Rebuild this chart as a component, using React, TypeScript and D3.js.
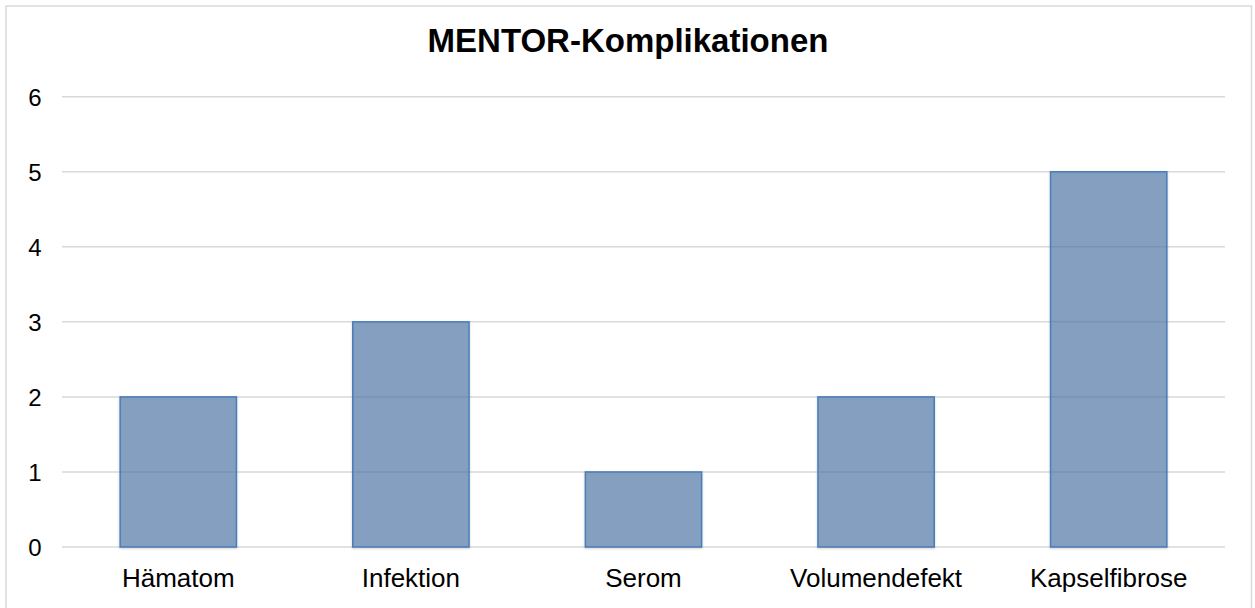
import React from "react";
import * as d3 from "d3";

const categories = ["Hämatom", "Infektion", "Serom", "Volumendefekt", "Kapselfibrose"];
const values = [2, 3, 1, 2, 5];
const yTicks = [0, 1, 2, 3, 4, 5, 6];
const title = "MENTOR-Komplikationen";

export default function App() {
  const W = 1255, H = 608;
  const left = 62, right = 1225, top = 96.7, bottom = 547;
  const x = d3.scaleBand<string>().domain(categories).range([left, right]).paddingInner(0.5).paddingOuter(0.25);
  const y = d3.scaleLinear().domain([0, 6]).range([bottom, top]);
  const font = "'Liberation Sans', Arial, sans-serif";
  return (
    <svg width={W} height={H} style={{ position: "absolute", left: 0, top: 0, background: "#fff" }}>
      <defs>
        <filter id="sh" x="-10%" y="-10%" width="120%" height="120%">
          <feDropShadow dx="0" dy="1" stdDeviation="1.2" floodColor="#000" floodOpacity="0.2" />
        </filter>
      </defs>
      <rect x={6} y={6} width={1245.5} height={610} fill="#fff" stroke="#d9d9d9" strokeWidth={1.5} />
      <text x={628} y={52} textAnchor="middle" fontFamily={font} fontWeight="bold" fontSize={33} fill="#000">
        {title}
      </text>
      {yTicks.map((t) => (
        <g key={t}>
          <line x1={left} x2={right} y1={y(t)} y2={y(t)} stroke="#d9d9d9" strokeWidth={1.5} />
          <text x={35} y={y(t) + 9} textAnchor="middle" fontFamily={font} fontSize={24} fill="#000">
            {t}
          </text>
        </g>
      ))}
      {categories.map((c, i) => (
        <rect
          key={c}
          x={x(c)!}
          y={y(values[i])}
          width={x.bandwidth()}
          height={y(0) - y(values[i])}
          fill="rgb(80,120,170)"
          fillOpacity={0.645}
          stroke="#4a7ebb"
          strokeWidth={1.5}
          filter="url(#sh)"
        />
      ))}
      {categories.map((c) => (
        <text key={c} x={x(c)! + x.bandwidth() / 2} y={587} textAnchor="middle" fontFamily={font} fontSize={26} fill="#000">
          {c}
        </text>
      ))}
    </svg>
  );
}
